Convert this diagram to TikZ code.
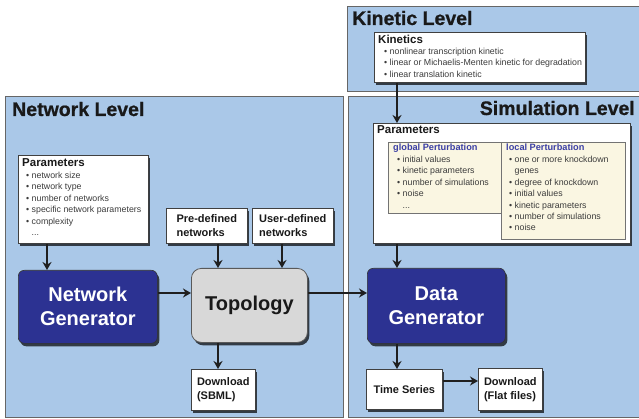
\documentclass[tikz,border=0pt]{standalone}
\usepackage{fontspec}
\setmainfont{Liberation Sans}
\newfontfamily\heavyfont[BoldFeatures={FakeBold=0.8}]{Liberation Sans}
\usetikzlibrary{shadows,arrows.meta}
\definecolor{panelblue}{RGB}{170,200,232}
\definecolor{genblue}{RGB}{44,50,146}
\definecolor{topogray}{RGB}{216,216,216}
\definecolor{cream}{RGB}{250,246,226}
\definecolor{pblue}{RGB}{58,62,165}
\definecolor{txtgray}{RGB}{60,60,60}
\begin{document}
\begin{tikzpicture}[x=1pt,y=-1pt,
 panel/.style={draw=black!60, line width=0.9pt, fill=panelblue, inner sep=0pt, anchor=north west},
 shad/.style={drop shadow={shadow xshift=2pt, shadow yshift=-3pt, opacity=0.7, fill=black}},
 wbox/.style={draw=black!75, line width=0.6pt, fill=white, shad, inner sep=0pt, anchor=north west},
 cbox/.style={draw=black!55, line width=0.6pt, fill=cream, inner sep=0pt, anchor=north west},
 gen/.style={draw=black!80, line width=0.6pt, fill=genblue, rounded corners=6pt, shad, inner sep=0pt, anchor=north west, text=white, align=center, font=\fontsize{20}{24}\selectfont\bfseries},
 topob/.style={draw=black!65, line width=0.8pt, fill=topogray, rounded corners=10pt, shad, inner sep=0pt, anchor=north west, text=black!90, font=\fontsize{20}{24}\selectfont\bfseries},
 lvl/.style={font=\heavyfont\fontsize{19.5}{22}\selectfont\bfseries, text=black!90, inner sep=0pt},
 ttl/.style={font=\fontsize{11.5}{13}\selectfont\bfseries, text=black!90, inner sep=0pt, anchor=base west},
 ptl/.style={font=\fontsize{9.2}{11}\selectfont\bfseries, text=pblue, inner sep=0pt, anchor=base west},
 lst/.style={font=\fontsize{8.8}{11.4}\selectfont, text=txtgray, inner sep=0pt, anchor=north west, align=left},
 sbold/.style={font=\fontsize{11}{14}\selectfont\bfseries, text=black!90, align=left},
 arr/.style={draw=black!88, line width=2.8pt, -{Stealth[length=8pt,width=9pt]}},
]
\useasboundingbox (0,0) rectangle (639,419);

% panels
\node[panel, minimum width=294pt, minimum height=85pt] (kinp) at (347,6) {};
\node[panel, minimum width=338pt, minimum height=321pt] (netp) at (5,96) {};
\node[panel, minimum width=293pt, minimum height=321pt] (simp) at (348,96) {};

\node[lvl, anchor=base west] (kint) at (352,25) {Kinetic Level};
\node[lvl, anchor=base west] (nett) at (12,116) {Network Level};
\node[lvl, anchor=base east] (simt) at (635,115) {Simulation Level};

% kinetic box
\node[wbox, minimum width=211pt, minimum height=50pt] (kin) at (374,32) {};
\node[ttl] (kintt) at (378,44) {Kinetics};
\node[lst] (kinl) at (384,48) {• nonlinear transcription kinetic\\• linear or Michaelis-Menten kinetic for degradation\\• linear translation kinetic};

% network parameters
\node[wbox, minimum width=130pt, minimum height=88pt] (np) at (18,155) {};
\node[ttl] (nptt) at (22,167) {Parameters};
\node[lst] (npl) at (26,172) {• network size\\• network type\\• number of networks\\• specific network parameters\\• complexity\\\hphantom{• }...};

\node[wbox, sbold, minimum width=81pt, minimum height=35pt] (pre) at (166,208) {Pre-defined\\networks};
\node[wbox, sbold, minimum width=81pt, minimum height=35pt] (user) at (252,208) {User-defined\\networks};

\node[gen, minimum width=139pt, minimum height=73pt] (ng) at (18,270) {Network\\Generator};
\node[topob, minimum width=116pt, minimum height=74pt] (topo) at (191,268) {Topology};
\node[gen, minimum width=138pt, minimum height=75pt] (dg) at (367,268) {Data\\Generator};

\node[wbox, sbold, minimum width=64pt, minimum height=41pt] (sbml) at (191,369) {Download\\(SBML)};
\node[wbox, sbold, minimum width=76pt, minimum height=40pt] (ts) at (366,369) {Time Series};
\node[wbox, sbold, minimum width=64pt, minimum height=42pt] (ff) at (478,368) {Download\\(Flat files)};

% simulation parameters
\node[wbox, minimum width=257pt, minimum height=120pt] (sp) at (373,123) {};
\node[ttl] (sptt) at (377,134) {Parameters};
\node[cbox, minimum width=113pt, minimum height=71pt] (gp) at (388,142) {};
\node[cbox, minimum width=124pt, minimum height=97pt] (lp) at (501,142) {};
\node[ptl] (gptt) at (393,151) {global Perturbation};
\node[lst] (gpl) at (397,156) {• initial values\\• kinetic parameters\\• number of simulations\\• noise\\\hphantom{• }...};
\node[ptl] (lptt) at (506,151) {local Perturbation};
\node[lst] (lpl) at (509,156) {• one or more knockdown\\\hphantom{• }genes\\• degree of knockdown\\• initial values\\• kinetic parameters\\• number of simulations\\• noise};

% connector guides
\coordinate (cA) at (47,0);
\coordinate (cB) at (218,0);
\coordinate (cC) at (282,0);
\coordinate (cD) at (397,0);
\coordinate (rA) at (0,293);
\coordinate (rB) at (0,381);

\draw[arr] (np.south -| cA) -- (ng.north -| cA);
\draw[arr] (pre.south -| cB) -- (topo.north -| cB);
\draw[arr] (user.south -| cC) -- (topo.north -| cC);
\draw[arr] (ng.east |- rA) -- (topo.west |- rA);
\draw[arr] (topo.east |- rA) -- (dg.west |- rA);
\draw[arr] (kin.south -| cD) -- (sp.north -| cD);
\draw[arr] (sp.south -| cD) -- (dg.north -| cD);
\draw[arr] (topo.south -| cB) -- (sbml.north -| cB);
\draw[arr] (dg.south -| cD) -- (ts.north -| cD);
\draw[arr] (ts.east |- rB) -- (ff.west |- rB);
\end{tikzpicture}
\end{document}
